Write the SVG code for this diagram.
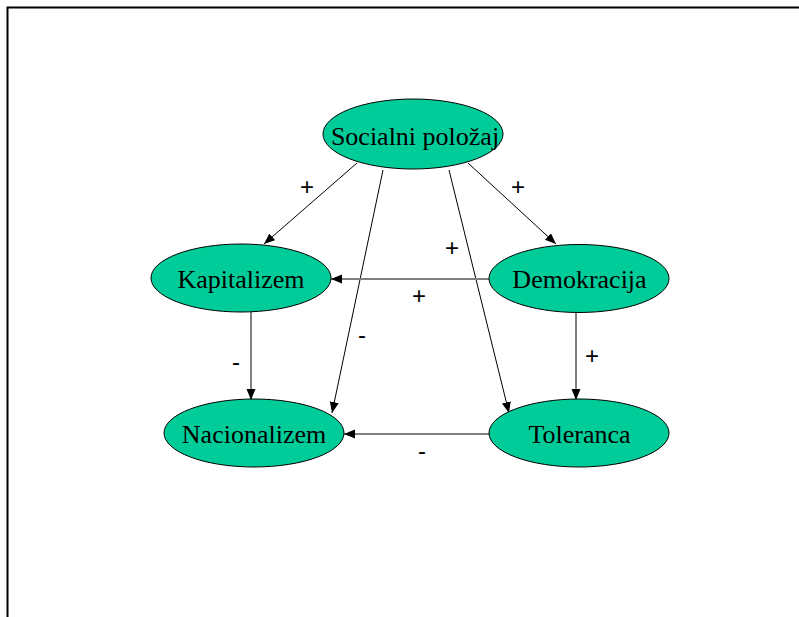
<svg xmlns="http://www.w3.org/2000/svg" width="799" height="617" viewBox="0 0 799 617">
<defs>
<style>
.node ellipse{fill:#00CC99;stroke:#000;stroke-width:1}
.node text{font-family:"Liberation Serif","Times New Roman",serif;font-size:26px;fill:#000;text-anchor:middle}
.edge{stroke:#000;stroke-width:1;fill:none;marker-end:url(#arr)}
.gray{stroke:#808080;stroke-width:2}
.lbl{font-family:"Liberation Sans",Arial,sans-serif;font-size:24px;fill:#000;text-anchor:middle}
</style>
<marker id="arr" markerUnits="userSpaceOnUse" markerWidth="12" markerHeight="10" refX="11" refY="4.5" orient="auto" viewBox="0 0 12 10">
<path d="M0,0 L11,4.5 L0,9 z" fill="#000"/>
</marker>
</defs>
<rect width="799" height="617" fill="#fff"/>
<path d="M7.5,617 V7.5 H799" fill="none" stroke="#000" stroke-width="2"/>
<g id="connectors">
<line class="edge" x1="357" y1="163" x2="264" y2="244"/>
<line class="edge" x1="468" y1="163" x2="556" y2="244"/>
<line class="edge" x1="383" y1="170" x2="332" y2="413"/>
<line class="edge" x1="449" y1="170" x2="509" y2="413"/>
<line class="edge gray" x1="489" y1="279" x2="331" y2="279"/>
<line class="edge" x1="251" y1="312" x2="251" y2="400"/>
<line class="edge" x1="576" y1="312" x2="576" y2="400"/>
<line class="edge" x1="489" y1="434" x2="344" y2="434"/>
</g>
<g id="labels">
<text class="lbl" x="307" y="195">+</text>
<text class="lbl" x="518" y="195">+</text>
<text class="lbl" x="452" y="256">+</text>
<text class="lbl" x="419" y="304">+</text>
<text class="lbl" x="362" y="343">-</text>
<text class="lbl" x="236" y="370">-</text>
<text class="lbl" x="592" y="364">+</text>
<text class="lbl" x="422" y="459">-</text>
</g>
<g id="socialni" class="node">
<ellipse cx="413" cy="134" rx="90" ry="35"/>
<text x="415" y="145">Socialni položaj</text>
</g>
<g id="kapitalizem" class="node">
<ellipse cx="241" cy="278" rx="90" ry="34"/>
<text x="241" y="288">Kapitalizem</text>
</g>
<g id="demokracija" class="node">
<ellipse cx="579" cy="278.5" rx="90" ry="34"/>
<text x="579.5" y="288">Demokracija</text>
</g>
<g id="nacionalizem" class="node">
<ellipse cx="254" cy="433" rx="90" ry="34"/>
<text x="254" y="443">Nacionalizem</text>
</g>
<g id="toleranca" class="node">
<ellipse cx="579" cy="433" rx="90" ry="34"/>
<text x="579.5" y="443">Toleranca</text>
</g>
</svg>
